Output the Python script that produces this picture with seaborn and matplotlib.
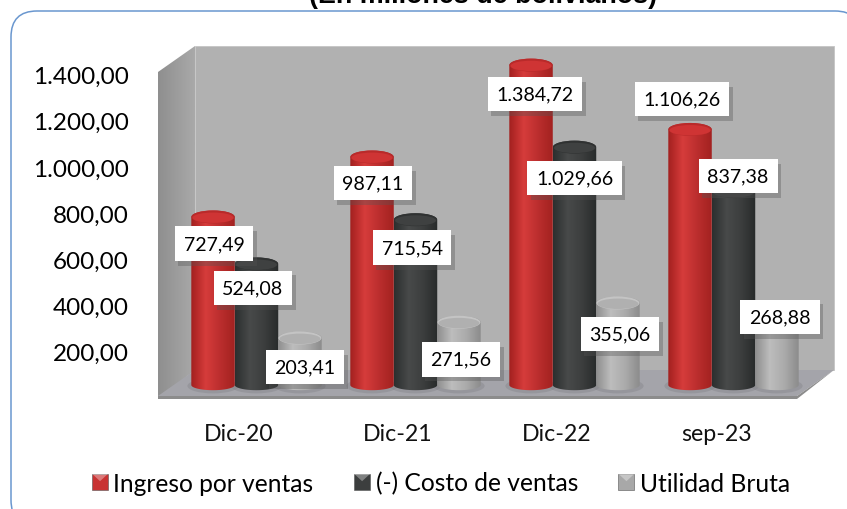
#Ingresos, costos y utilidad bruta - barras tipo cilindro
import numpy as np
import pandas as pd
import matplotlib
matplotlib.use('Agg')
import matplotlib.pyplot as plt
import seaborn as sns
from matplotlib.colors import LinearSegmentedColormap
from matplotlib.legend_handler import HandlerBase
from matplotlib.patches import Ellipse, FancyBboxPatch, Patch, Polygon, Rectangle
from matplotlib.patheffects import Normal, SimplePatchShadow
from matplotlib.transforms import ScaledTranslation

periodos = ['Dic-20', 'Dic-21', 'Dic-22', 'sep-23']
series = ['Ingreso por ventas', '(-) Costo de ventas', 'Utilidad Bruta']
ingreso = [727.49, 987.11, 1384.72, 1106.26]
costo = [524.08, 715.54, 1029.66, 837.38]
utilidad = [203.41, 271.56, 355.06, 268.88]
ticks_y = [200, 400, 600, 800, 1000, 1200, 1400]
titulo = '(En millones de bolivianos)'

colores = ['#c83232', '#3c3e3e', '#a8a8a8']
degradados = [['#a3201f', '#d63c3b', '#bb2e2e', '#a32220'],
              ['#2c2f2f', '#484a4a', '#3c3e3e', '#282b2b'],
              ['#8e8e8e', '#bdbdbd', '#ababab', '#8c8c8c']]
tapas = ['#cf3434', '#3f4141', '#b0b0b0']
brillos = ['#b92a2a', '#303232', '#c4c4c4']

# desplazamiento de cada etiqueta en px (serie, periodo) respecto al tope de la barra
offsets = [[(1, -26.5), (1, -26), (4, -29), (-8, 30.5)],
           [(-3.5, -24), (-3.5, -28), (0, -31), (4.5, 15.6)],
           [(5, -29), (2, -37), (2, -31), (3, 6)]]

df = pd.DataFrame({'periodo': periodos * 3,
                   'serie': np.repeat(series, 4),
                   'valor': ingreso + costo + utilidad})

sns.set_theme(style='white')
plt.rcParams['font.family'] = ['Lato', 'DejaVu Sans']

fig = plt.figure(figsize=(8.47, 5.10), dpi=100)

# fondo en px: marco, paredes y piso
bg = fig.add_axes([0, 0, 1, 1])
bg.set_xlim(0, 847)
bg.set_ylim(510, 0)
bg.axis('off')
bg.add_patch(FancyBboxPatch((11, 12), 850, 515, boxstyle='round,pad=0,rounding_size=26',
                            fc='white', ec='#6a97cf', lw=1.1))
bg.text(483, 3, titulo, ha='center', va='baseline', fontsize=19.4, fontweight='bold',
        family='Liberation Sans', color='black')
bg.add_patch(Rectangle((195, 47), 639, 324, fc='#b1b1b1', ec='#c4c4c4', lw=0.6))
pared = bg.imshow(np.linspace(0, 1, 32).reshape(1, -1), extent=(158, 195, 400, 47), aspect='auto',
                  cmap=LinearSegmentedColormap.from_list('pared', ['#8f8f8f', '#a9a9a9']), zorder=1.5)
pared.set_clip_path(Polygon([(158, 73), (195, 47), (195, 371), (158, 400)], transform=bg.transData))
bg.set_xlim(0, 847)
bg.set_ylim(510, 0)
bg.add_patch(Polygon([(158, 397), (195, 371), (834, 371), (797, 397)], fc='#a4a4aa', ec='none', zorder=2))
bg.add_patch(Polygon([(158, 397), (797, 397), (797, 400), (158, 400)], fc='#8c8c8c', ec='none', zorder=2))
bg.add_patch(Polygon([(797, 397), (834, 371), (797, 400)], fc='#8c8c8c', ec='none', zorder=2))

# ejes de las barras
ax = fig.add_axes([158 / 847, 1 - 400 / 510, (834 - 158) / 847, (400 - 47) / 510])
ax.patch.set_visible(False)
sns.barplot(data=df, x='periodo', y='valor', hue='serie', hue_order=series, order=periodos,
            palette=colores, width=0.82, gap=0, legend=False, saturation=1, ax=ax)
xlim = ((158 - 256.5) / 159, (834 - 256.5) / 159)
ylim = ((386 - 400) / 0.231, (386 - 47) / 0.231)
cap = 6.5 / 0.231

for s, cont in enumerate(ax.containers):
    cmap = LinearSegmentedColormap.from_list(f'cil{s}', degradados[s])
    for p, bar in enumerate(cont):
        x0, w, h = bar.get_x(), bar.get_width(), bar.get_height()
        xc = x0 + w / 2
        bar.set_zorder(3 + s)
        bar.set_visible(False)
        ax.add_patch(Ellipse((xc, -4), w * 1.18, cap * 2.3, fc='#7d7d82', ec='none', alpha=0.35, zorder=2.5))
        # contorno del cilindro
        t = np.linspace(np.pi, 2 * np.pi, 40)
        abajo = np.c_[xc + w / 2 * np.cos(t), cap * 0.8 * np.sin(t)]
        arriba = np.c_[xc - w / 2 * np.cos(t), h - cap * np.sin(t)]
        silueta = Polygon(np.r_[abajo, arriba], transform=ax.transData)
        im = ax.imshow(np.linspace(0, 1, 64).reshape(1, -1), extent=(x0, x0 + w, -cap, h + cap),
                       aspect='auto', cmap=cmap, zorder=3 + s)
        im.set_clip_path(silueta)
        ax.add_patch(Ellipse((xc, h), w * 0.99, cap * 2, fc=brillos[s], ec='none', zorder=3.1 + s))
        ax.add_patch(Ellipse((xc, h - cap * 0.12), w * 0.94, cap * 1.6, fc=tapas[s], ec='none', zorder=3.2 + s))

ax.set_xlim(xlim)
ax.set_ylim(ylim)
ax.set_xlabel('')
ax.set_ylabel('')
ax.set_yticks(ticks_y)
ax.set_yticklabels([f'{v:,.2f}'.replace(',', ' ').replace('.', ',').replace(' ', '.') for v in ticks_y])
ax.tick_params(axis='y', length=0, pad=21, labelsize=17.5, labelcolor='black')
ax.tick_params(axis='x', length=0, pad=17.5, labelsize=16.7, labelcolor='#111111')
sns.despine(ax=ax, left=True, bottom=True)

# los rotulos del eje van sobre el plano frontal, no sobre el de las barras
baja = ScaledTranslation(0, -13 / 100, fig.dpi_scale_trans)
izq = ScaledTranslation(-17.5 / 100, 0, fig.dpi_scale_trans)
for lab in ax.get_yticklabels():
    lab.set_transform(lab.get_transform() + baja)
for lab in ax.get_xticklabels():
    lab.set_transform(lab.get_transform() + izq)

# etiquetas de datos
for s, cont in enumerate(ax.containers):
    for p, bar in enumerate(cont):
        val = bar.get_height()
        txt = f'{val:,.2f}'.replace(',', ' ').replace('.', ',').replace(' ', '.')
        dx, dy = offsets[s][p]
        an = ax.annotate(txt, xy=(bar.get_x() + bar.get_width() / 2, val),
                         xytext=(dx * 0.72, dy * 0.72), textcoords='offset points',
                         ha='center', va='center', fontsize=14.1, color='black', zorder=20,
                         bbox=dict(boxstyle='square,pad=0.45', fc='white', ec='none'))
        an.get_bbox_patch().set_path_effects(
            [SimplePatchShadow(offset=(2.5, -3.5), shadow_rgbFace='#555555', alpha=0.35), Normal()])


class HandlerBisel(HandlerBase):
    def create_artists(self, legend, orig, xd, yd, width, height, fontsize, trans):
        x0, y0 = -xd, -yd
        base = Rectangle((x0, y0), width, height, fc=orig.get_facecolor(), ec='#555555', lw=0.4, transform=trans)
        luz = Polygon([(x0, y0 + height), (x0 + width, y0 + height), (x0 + width / 2, y0 + height * 0.55)],
                      fc='white', ec='none', alpha=0.35, transform=trans)
        return [base, luz]


manejadores = [Patch(color=c, label=n) for c, n in zip(colores, series)]
ax.legend(handles=manejadores, loc='center', bbox_to_anchor=(441, 484), bbox_transform=bg.transData,
          ncol=3, frameon=False, fontsize=17.7, handlelength=0.65, handleheight=0.65, handletextpad=0.22,
          columnspacing=1.65, labelcolor='black', handler_map={Patch: HandlerBisel()})

fig.savefig('out.png', dpi=100)
